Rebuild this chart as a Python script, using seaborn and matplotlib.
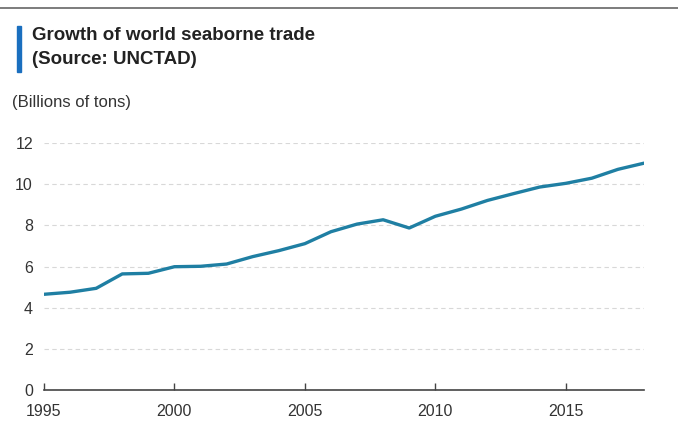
import pandas as pd
import numpy as np
import matplotlib
matplotlib.use('Agg')
import matplotlib.pyplot as plt
import seaborn as sns
from matplotlib.lines import Line2D
from matplotlib.patches import Rectangle

# data (billions of tons)
years = list(range(1995, 2019))
trade = [4.65, 4.75, 4.94, 5.64, 5.67, 5.99, 6.01, 6.12, 6.48, 6.77, 7.11,
         7.69, 8.06, 8.27, 7.87, 8.44, 8.79, 9.21, 9.54, 9.86, 10.04, 10.29,
         10.72, 11.02]
xticks = [1995, 2000, 2005, 2010, 2015]
yticks = [0, 2, 4, 6, 8, 10, 12]

df = pd.DataFrame({'year': years, 'trade': trade})

sns.set_style('white')
plt.rcParams['font.family'] = ['Liberation Sans', 'DejaVu Sans']

fig = plt.figure(figsize=(6.78, 4.44), dpi=100)
ax = fig.add_axes([44 / 678, 1 - 390 / 444, 600 / 678, 247 / 444])

sns.lineplot(data=df, x='year', y='trade', ax=ax, color='#1f7fa3', linewidth=2.4)

ax.set_xlim(1995, 2018)
ax.set_ylim(0, 12)
ax.set_xticks(xticks)
ax.set_yticks(yticks)
ax.set_xlabel('')
ax.set_ylabel('')
ax.tick_params(axis='x', length=5, width=1, color='#444444', labelsize=11.5,
               labelcolor='#333333', pad=10, direction='in', bottom=True)
ax.tick_params(axis='y', length=0, labelsize=11.5, labelcolor='#333333', pad=8)

ax.grid(axis='y', color='#d8d8d8', linestyle=(0, (4, 3)), linewidth=0.8)
ax.grid(axis='x', visible=False)
for side in ['top', 'right', 'left']:
    ax.spines[side].set_visible(False)
ax.spines['bottom'].set_color('#444444')
ax.spines['bottom'].set_linewidth(1.2)
ax.set_axisbelow(True)

# header
fig.add_artist(Line2D([0, 1], [1 - 8 / 444, 1 - 8 / 444], color='#666666', linewidth=1.2))
fig.add_artist(Rectangle((17 / 678, 1 - 72 / 444), 4 / 678, 46 / 444,
                         color='#1a6fbf', transform=fig.transFigure))
fig.text(32 / 678, 1 - 35 / 444, 'Growth of world seaborne trade', fontsize=13.5,
         fontweight='bold', color='#222222', va='center')
fig.text(32 / 678, 1 - 60 / 444, '(Source: UNCTAD)', fontsize=13.5,
         fontweight='bold', color='#222222', va='center')
fig.text(12 / 678, 1 - 102 / 444, '(Billions of tons)', fontsize=12,
         color='#333333', va='center')

fig.savefig('out.png', dpi=100)
